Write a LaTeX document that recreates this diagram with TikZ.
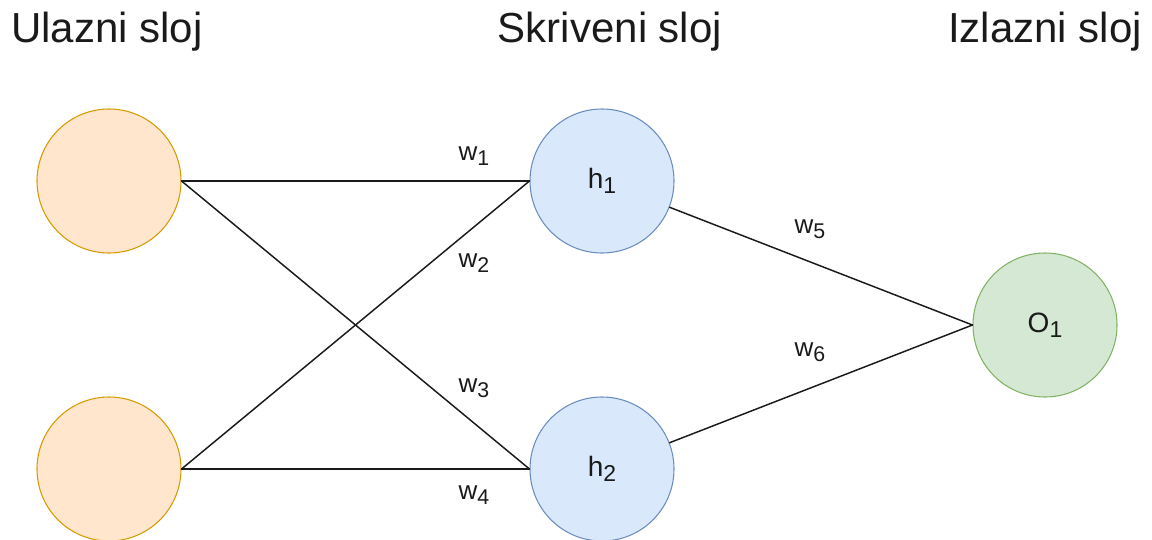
\documentclass[tikz,border=0pt]{standalone}
\usepackage{fontspec}
\setmainfont{Liberation Sans}
\definecolor{inFill}{HTML}{FFE6CC}
\definecolor{inLine}{HTML}{D79B00}
\definecolor{hidFill}{HTML}{DAE8FC}
\definecolor{hidLine}{HTML}{6C8EBF}
\definecolor{outFill}{HTML}{D5E8D4}
\definecolor{outLine}{HTML}{82B366}
\definecolor{txt}{HTML}{1A1A1A}
\newcommand{\wsub}[1]{\raisebox{-0.35ex}{\scalebox{0.82}{#1}}}
\tikzset{
  neuron/.style={circle, draw, line width=0.8pt, inner sep=0pt, minimum size=108pt, text=txt, font=\fontsize{21}{25}\selectfont},
  inneuron/.style={neuron, fill=inFill, draw=inLine},
  hidneuron/.style={neuron, fill=hidFill, draw=hidLine},
  outneuron/.style={neuron, fill=outFill, draw=outLine},
  layertitle/.style={anchor=base, text=txt, font=\fontsize{31.5}{38}\selectfont},
  weight/.style={text=txt, inner sep=0pt, font=\fontsize{19.5}{23}\selectfont},
  link/.style={line width=1.1pt, draw=txt}
}
\begin{document}
\begin{tikzpicture}[x=0.75pt,y=-0.75pt, line join=round, line cap=round]
\useasboundingbox (0,0) rectangle (1152,539);
% layer titles
\node[layertitle] (tIn) at (107,42) {Ulazni sloj};
\node[layertitle] (tHid) at (610,42) {Skriveni sloj};
\node[layertitle] (tOut) at (1045,42) {Izlazni sloj};
% neurons
\node[inneuron] (i1) at (109,181) {};
\node[inneuron] (i2) at (109,469) {};
\node[hidneuron] (h1) at (602,181) {h\wsub{1}};
\node[hidneuron] (h2) at (602,469) {h\wsub{2}};
\node[outneuron] (o1) at (1045,325) {O\wsub{1}};
% connections
\draw[link] (i1.east) -- (h1.west);
\draw[link] (i1.east) -- (h2.west);
\draw[link] (i2.east) -- (h1.west);
\draw[link] (i2.east) -- (h2.west);
\draw[link] (h1) -- (o1.west);
\draw[link] (h2) -- (o1.west);
% weights
\foreach \w/\p in {1/{(474,156)},2/{(474,263)},3/{(474,388)},4/{(474,495)},5/{(810,229)},6/{(810,352)}}
  \node[weight] (w\w) at \p {w\wsub{\w}};
\end{tikzpicture}
\end{document}
